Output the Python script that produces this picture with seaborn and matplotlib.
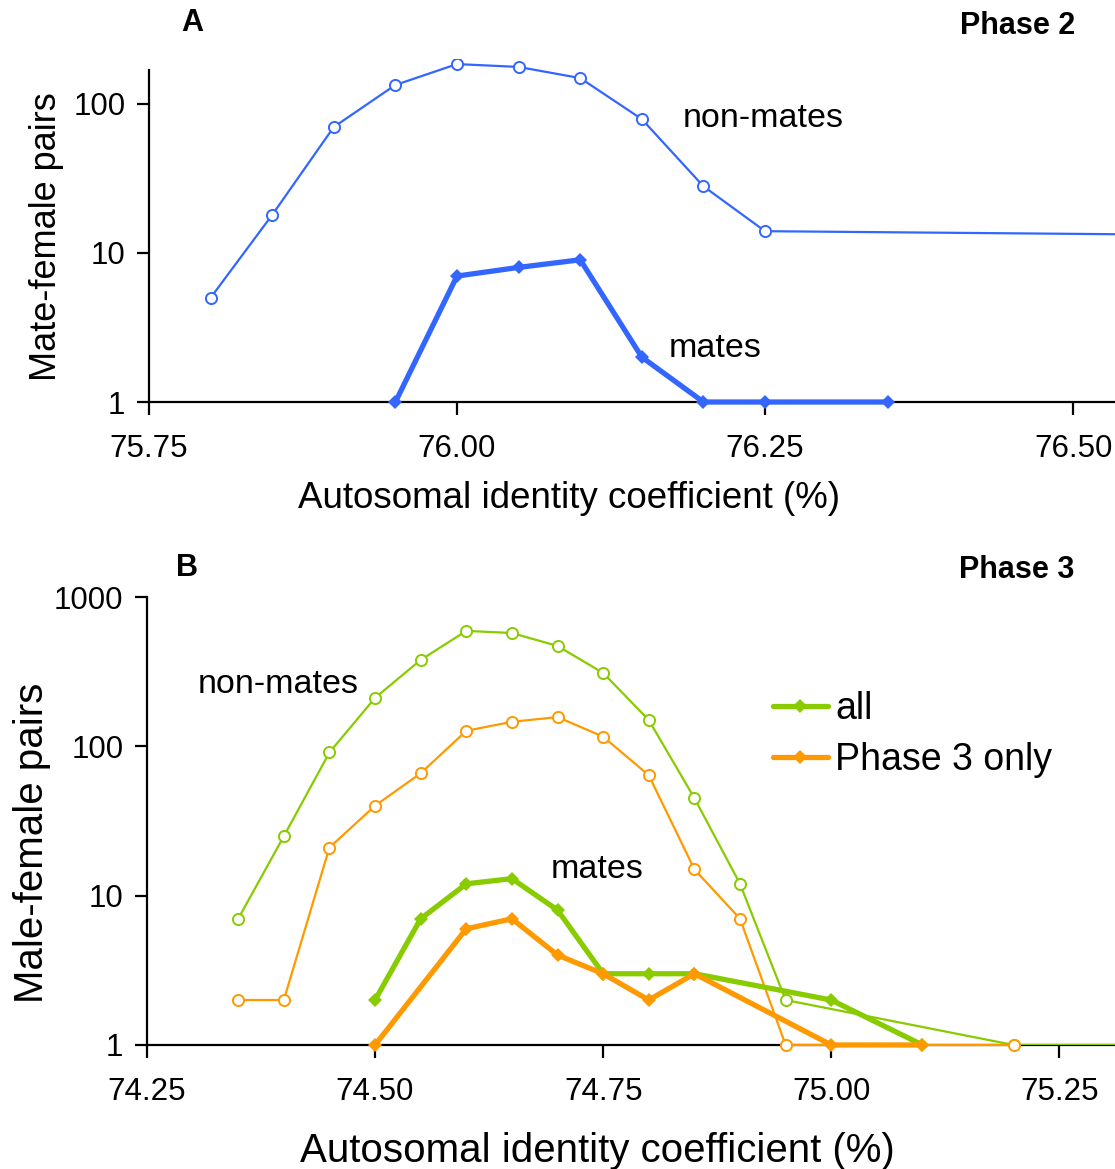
import numpy as np
import pandas as pd
import matplotlib
matplotlib.use("Agg")
import matplotlib.pyplot as plt
import seaborn as sns

# Panel A (Phase 2)
a_nonmates_x = [75.80, 75.85, 75.90, 75.95, 76.00, 76.05, 76.10, 76.15, 76.20, 76.25, 76.70]
a_nonmates_y = [5, 18, 70, 134, 185, 177, 149, 79, 28, 14, 13]
a_mates_x = [75.95, 76.00, 76.05, 76.10, 76.15, 76.20, 76.25, 76.35]
a_mates_y = [1, 7, 8, 9, 2, 1, 1, 1]

# Panel B (Phase 3) - all
b_all_nonmates_x = [74.35, 74.40, 74.45, 74.50, 74.55, 74.60, 74.65, 74.70, 74.75,
                    74.80, 74.85, 74.90, 74.95, 75.20, 75.45]
b_all_nonmates_y = [7, 25, 91, 211, 379, 593, 574, 470, 310, 150, 45, 12, 2, 1, 1]
b_all_mates_x = [74.50, 74.55, 74.60, 74.65, 74.70, 74.75, 74.80, 74.85, 75.00, 75.10]
b_all_mates_y = [2, 7, 12, 13, 8, 3, 3, 3, 2, 1]

# Panel B - Phase 3 only
b_p3_nonmates_x = [74.35, 74.40, 74.45, 74.50, 74.55, 74.60, 74.65, 74.70, 74.75,
                   74.80, 74.85, 74.90, 74.95, 75.20]
b_p3_nonmates_y = [2, 2, 21, 40, 66, 127, 146, 157, 116, 64, 15, 7, 1, 1]
b_p3_mates_x = [74.50, 74.60, 74.65, 74.70, 74.75, 74.80, 74.85, 75.00, 75.10]
b_p3_mates_y = [1, 6, 7, 4, 3, 2, 3, 1, 1]

a_xticks = [75.75, 76.00, 76.25, 76.50]
b_xticks = [74.25, 74.50, 74.75, 75.00, 75.25]

blue = "#3366ff"
green = "#88cc00"
orange = "#ff9900"

sns.set_style("ticks")
plt.rcParams['font.family'] = ['Liberation Sans', 'DejaVu Sans']
plt.rcParams['text.color'] = 'black'
plt.rcParams['axes.labelcolor'] = 'black'
plt.rcParams['xtick.color'] = 'black'
plt.rcParams['ytick.color'] = 'black'

fig = plt.figure(figsize=(11.15, 11.69), dpi=100)
ax1 = fig.add_axes([0.1336, 0.6561, 0.8664, 0.2934])
ax2 = fig.add_axes([0.1318, 0.1061, 0.8682, 0.3832])

thin = dict(marker='o', markersize=8, markerfacecolor='white', markeredgewidth=1.4,
            linewidth=1.6)
thick = dict(marker='D', markersize=7, markeredgewidth=0, linewidth=3.8)


def draw(ax, x, y, color, style, label=None, clip=True):
    df = pd.DataFrame({'x': x, 'y': y})
    sns.lineplot(data=df, x='x', y='y', ax=ax, color=color, markeredgecolor=color,
                 sort=False, label=label, legend=False, zorder=3, clip_on=clip, **style)


# series that run past the right edge stay clipped
draw(ax1, a_nonmates_x, a_nonmates_y, blue, thin)
draw(ax1, a_mates_x, a_mates_y, blue, thick, clip=False)

draw(ax2, b_all_nonmates_x, b_all_nonmates_y, green, thin)
draw(ax2, b_p3_nonmates_x, b_p3_nonmates_y, orange, thin, clip=False)
draw(ax2, b_all_mates_x, b_all_mates_y, green, thick, label='all', clip=False)
draw(ax2, b_p3_mates_x, b_p3_mates_y, orange, thick, label='Phase 3 only', clip=False)

for ax in (ax1, ax2):
    ax.set_yscale('log')
    ax.yaxis.set_minor_locator(matplotlib.ticker.NullLocator())
    ax.yaxis.set_major_formatter(matplotlib.ticker.FuncFormatter(lambda v, p: f"{v:g}"))
    ax.spines['top'].set_visible(False)
    ax.spines['right'].set_visible(False)
    for s in ('left', 'bottom'):
        ax.spines[s].set_linewidth(1.6)
        ax.spines[s].set_color('black')
    ax.tick_params(axis='both', direction='out', length=9, width=1.6, labelsize=22.5,
                   color='black', labelcolor='black')
    ax.tick_params(axis='x', pad=14)
    ax.tick_params(axis='y', pad=8)

ax1.set_xlim(75.75, 76.534)
ax1.set_ylim(1, 200)
ax1.spines['left'].set_bounds(1, 170)
ax1.set_xticks(a_xticks)
ax1.set_xticklabels([f"{v:.2f}" for v in a_xticks])
ax1.set_yticks([1, 10, 100])
ax1.set_xlabel("Autosomal identity coefficient (%)", fontsize=26.5, labelpad=13)
ax1.set_ylabel("Mate-female pairs", fontsize=26, labelpad=7)
ax1.xaxis.set_label_coords(0.435, -0.23)
ax1.yaxis.label.set_y(0.481)
ax1.text(76.183, 80, "non-mates", fontsize=24.5, ha='left', va='center')
ax1.text(76.172, 2.3, "mates", fontsize=24.5, ha='left', va='center')
fig.text(0.172, 0.980, "A", fontsize=22, fontweight='bold', ha='center', va='center')
fig.text(0.964, 0.978, "Phase 2", fontsize=22, fontweight='bold', ha='right', va='center')

ax2.set_xlim(74.25, 75.311)
ax2.set_ylim(1, 1000)
ax2.set_xticks(b_xticks)
ax2.set_xticklabels([f"{v:.2f}" for v in b_xticks])
ax2.set_yticks([1, 10, 100, 1000])
ax2.set_xlabel("Autosomal identity coefficient (%)", fontsize=29, labelpad=17)
ax2.set_ylabel("Male-female pairs", fontsize=29, labelpad=2)
ax2.xaxis.set_label_coords(0.465, -0.194)
ax2.yaxis.label.set_y(0.451)
ax2.text(74.306, 258, "non-mates", fontsize=24.5, ha='left', va='center')
ax2.text(74.693, 14.9, "mates", fontsize=24.5, ha='left', va='center')
fig.text(0.168, 0.514, "B", fontsize=22, fontweight='bold', ha='center', va='center')
fig.text(0.964, 0.512, "Phase 3", fontsize=22, fontweight='bold', ha='right', va='center')

ax2.legend(loc='center left', bbox_to_anchor=(0.612, 0.693), frameon=False, fontsize=27,
           handlelength=1.45, handletextpad=0.21, labelspacing=0.38, numpoints=1)

fig.savefig("out.png", dpi=100)
